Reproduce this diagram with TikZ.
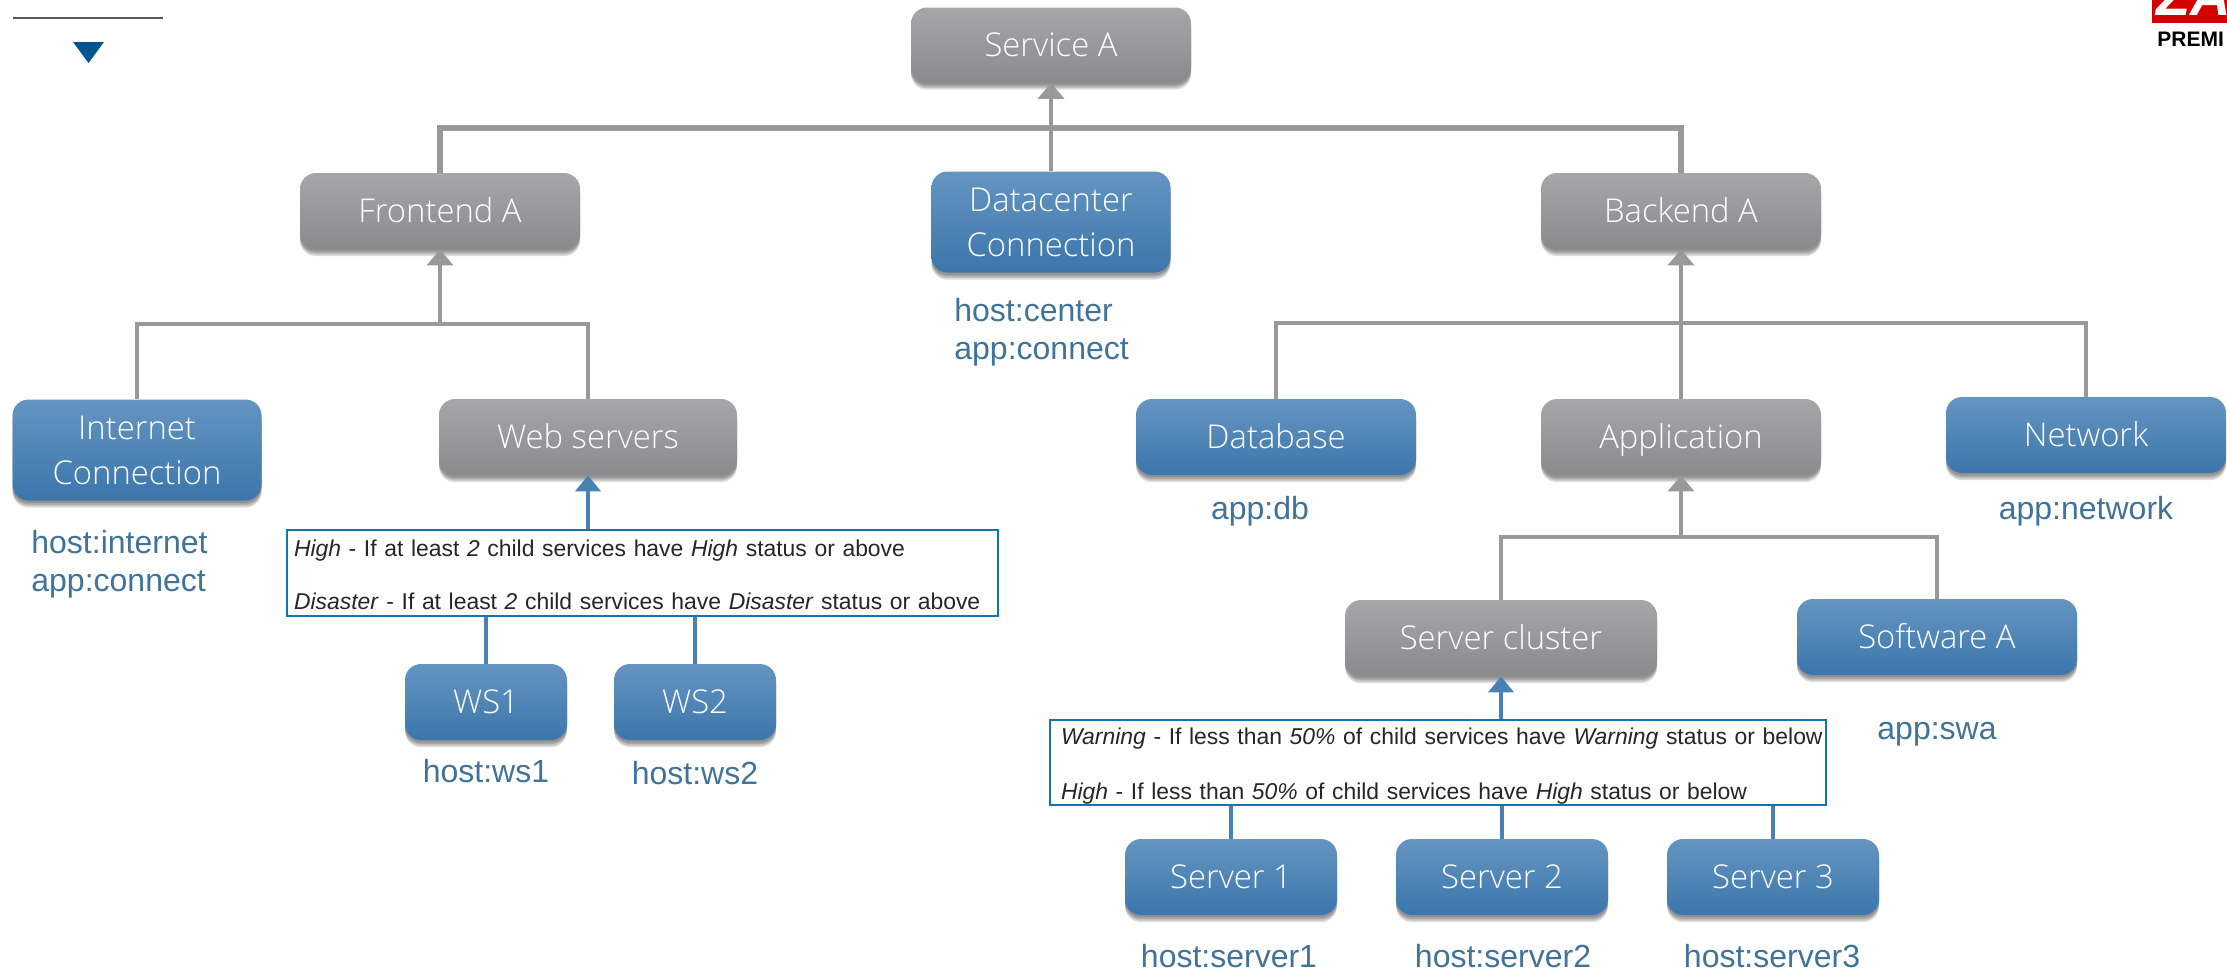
\documentclass[tikz,border=0pt]{standalone}
\usepackage{fontspec}
\setmainfont{Liberation Sans}
\newfontfamily\boxfont{Open Sans Light}
\usetikzlibrary{arrows.meta,shadows}
\definecolor{tipgrey}{HTML}{999999}
\definecolor{tipblue}{HTML}{4682B4}
\definecolor{labelblue}{HTML}{41739A}
\definecolor{ruleblue}{HTML}{0F76B0}
\definecolor{markblue}{HTML}{00558C}
\definecolor{logored}{HTML}{D40000}
\definecolor{bluetop}{HTML}{6595C1}
\definecolor{bluemid}{HTML}{4483BA}
\definecolor{bluelow}{HTML}{3B76AB}
\definecolor{greytop}{HTML}{A7A7A9}
\definecolor{greymid}{HTML}{9A9A9C}
\definecolor{greylow}{HTML}{8A8A8C}
\begin{document}
\begin{tikzpicture}[x=.5pt,y=-.5pt,
   softshadow/.style={general shadow={shadow xshift=0pt,shadow yshift=#1,fill=black,opacity=.13}},
   basebox/.style={rounded corners=8pt,minimum width=140pt,minimum height=38pt,align=center,
     inner sep=0pt,text=white,text height=13.5pt,text depth=2.5pt,
     font=\boxfont\fontsize{16.4}{22.5}\selectfont,
     softshadow=-3.6pt,softshadow=-2.8pt,softshadow=-2pt,softshadow=-1.2pt},
   twoline/.style={text height={},text depth={}},
   bluebox/.style={basebox,top color=bluetop,middle color=bluemid,bottom color=bluelow},
   greybox/.style={basebox,top color=greytop,middle color=greymid,bottom color=greylow},
   hostlabel/.style={text=labelblue,inner sep=0pt,align=left,font=\fontsize{16}{19}\selectfont},
   rulebox/.style={draw=ruleblue,line width=.9pt,fill=white,inner sep=0pt,align=left,text=black!85},
   greyline/.style={draw=tipgrey,line width=2.3pt},
   greytip/.style={greyline,-{Triangle[width=13pt,length=8pt]}},
   blueline/.style={draw=tipblue,line width=2pt},
   bluetip/.style={blueline,-{Triangle[width=12.5pt,length=8pt]}}]

\useasboundingbox (0,0) rectangle (2227,971);
\clip (0,0) rectangle (2227,971);

\coordinate (markl) at (13,18);
\coordinate (markr) at (163,18);
\draw[black!65,line width=.7pt] (markl) -- (markr);
\fill[markblue] (73,42) -- (104,42) -- (88.5,63) -- cycle;

\fill[logored] (2152,0) rectangle (2227,23);
\node[anchor=base west,inner sep=0pt,text=white,font=\bfseries\itshape\fontsize{28}{28}\selectfont] (logoza) at (2156,15) {ZA};
\node[anchor=base west,inner sep=0pt,font=\bfseries\fontsize{10.5}{10.5}\selectfont] (logotext) at (2157,46) {PREMI};

\node[greybox,minimum height=37.5pt] (service) at (1051,45) {Service A};
\node[greybox] (frontend) at (440,211) {Frontend A};
\node[bluebox,twoline,minimum width=119.5pt,minimum height=50.5pt] (datacenter) at (1051,222) {Datacenter\\Connection};
\node[greybox] (backend) at (1681,211) {Backend A};

\node[bluebox,twoline,minimum width=124.5pt,minimum height=50.5pt] (internet) at (137,450) {Internet\\Connection};
\node[greybox,minimum width=149pt] (web) at (588,437) {Web servers};
\node[bluebox] (database) at (1276,437) {Database};
\node[greybox] (application) at (1681,437) {Application};
\node[bluebox] (network) at (2086,435) {Network};

\node[greybox,minimum width=156pt] (cluster) at (1501,638) {Server cluster};
\node[bluebox] (software) at (1937,637) {Software A};

\node[bluebox,minimum width=81pt] (ws1) at (486,702) {WS1};
\node[bluebox,minimum width=81pt] (ws2) at (695,702) {WS2};
\node[bluebox,minimum width=106pt] (server1) at (1231,877) {Server 1};
\node[bluebox,minimum width=106pt] (server2) at (1502,877) {Server 2};
\node[bluebox,minimum width=106pt] (server3) at (1773,877) {Server 3};

\node[rulebox,font=\fontsize{11.45}{26.5}\selectfont,text height=9.7pt,text width=348.5pt,minimum width=355.5pt,minimum height=43pt] (rule1) at (642.5,573)
  {\textit{High} - If at least \textit{2} child services have \textit{High} status or above\\
   \textit{Disaster} - If at least \textit{2} child services have \textit{Disaster} status or above};
\node[rulebox,font=\fontsize{11.45}{27.5}\selectfont,text height=12.3pt,text width=387pt,minimum width=388pt,minimum height=42.5pt] (rule2) at (1438,762.5)
  {\hspace*{5pt}\textit{Warning} - If less than \textit{50\%} of child services have \textit{Warning} status or below\\
   \hspace*{5pt}\textit{High} - If less than \textit{50\%} of child services have \textit{High} status or below};

\node[hostlabel,anchor=west] (centerlabel) at (954,332) {host:center\\app:connect};
\node[hostlabel,anchor=west] (internetlabel) at (31,564) {host:internet\\app:connect};
\node[hostlabel] (ws1label) at (486,771) {host:ws1};
\node[hostlabel] (ws2label) at (695,773) {host:ws2};
\node[hostlabel] (dblabel) at (1260,511) {app:db};
\node[hostlabel] (networklabel) at (2086,511) {app:network};
\node[hostlabel] (swalabel) at (1937,734) {app:swa};
\node[hostlabel] (server1label) at (1229,956) {host:server1};
\node[hostlabel] (server2label) at (1503,956) {host:server2};
\node[hostlabel] (server3label) at (1772,956) {host:server3};

\coordinate (bustop) at (1051,128);
\coordinate (busfront) at (440,324);
\coordinate (busback) at (1681,323);
\coordinate (busapp) at (1681,537);

\draw[greyline,line width=2.6pt] (frontend.north) |- (bustop) -| (backend.north);
\draw[greytip] (datacenter.north) -- (service.south);
\draw[greyline] (internet.north) |- (busfront) -| (web.north);
\draw[greytip] (busfront) -- (frontend.south);
\draw[greyline] (database.north) |- (busback) -| (network.north);
\draw[greytip] (application.north) -- (backend.south);
\draw[greyline] (cluster.north) |- (busapp) -| (software.north);
\draw[greytip] (busapp) -- (application.south);

\draw[bluetip] (web.south |- rule1.north) -- (web.south);
\draw[blueline] (ws1.north) -- (ws1.north |- rule1.south);
\draw[blueline] (ws2.north) -- (ws2.north |- rule1.south);
\draw[bluetip] (cluster.south |- rule2.north) -- (cluster.south);
\draw[blueline] (server1.north) -- (server1.north |- rule2.south);
\draw[blueline] (server2.north) -- (server2.north |- rule2.south);
\draw[blueline] (server3.north) -- (server3.north |- rule2.south);

\end{tikzpicture}
\end{document}
